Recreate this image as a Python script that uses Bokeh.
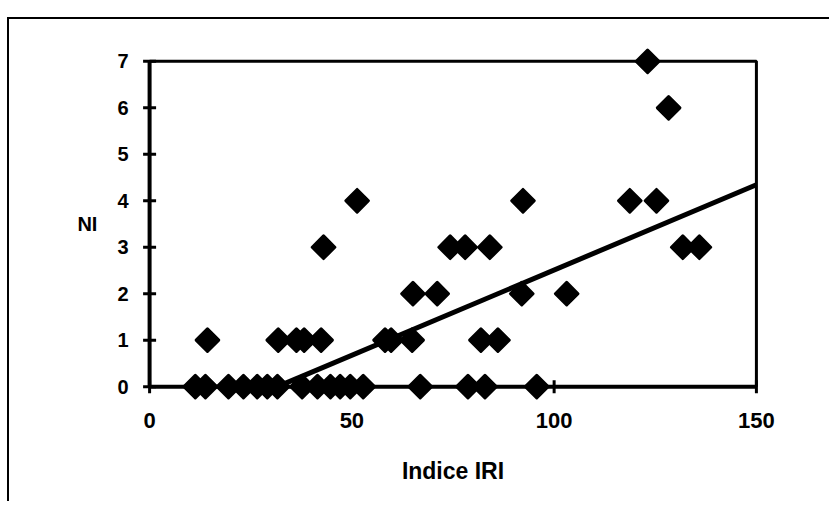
import numpy as np
from bokeh.plotting import figure
from bokeh.models import Range1d, FixedTicker
from bokeh.embed import file_html
from bokeh.resources import INLINE

# Data (IRI index vs NI)
iri = [11.3, 13.8, 19.5, 23.2, 26.6, 29.1, 31.6, 37.7, 41.5, 44.7, 47.1, 49.6, 52.8,
       66.9, 78.7, 82.9, 95.7,
       14.3, 31.8, 36.3, 38.2, 42.4, 58.2, 59.7, 64.9, 81.9, 86.1,
       65.1, 71.1, 92.0, 103.1,
       43.0, 74.3, 78.0, 84.1, 131.8, 135.9,
       51.3, 92.3, 118.7, 125.3,
       128.3,
       123.1]
ni = [0, 0, 0, 0, 0, 0, 0, 0, 0, 0, 0, 0, 0,
      0, 0, 0, 0,
      1, 1, 1, 1, 1, 1, 1, 1, 1, 1,
      2, 2, 2, 2,
      3, 3, 3, 3, 3, 3,
      4, 4, 4, 4,
      6,
      7]

x_ticks = [0, 50, 100, 150]
y_ticks = [0, 1, 2, 3, 4, 5, 6, 7]
trend_slope = 0.0367
trend_intercept = -1.16

X_MAX = 150
Y_MAX = 7
FONT = "Liberation Sans"

p = figure(width=822, height=484,
           x_range=Range1d(-2, 152), y_range=Range1d(-0.32, 7.32),
           output_backend="svg", toolbar_location=None,
           min_border_left=132, min_border_right=67,
           min_border_top=27, min_border_bottom=102)
p.styles = {"border-top": "2px solid black", "border-left": "2px solid black",
            "transform": "translate(7px, 17px)"}

p.grid.visible = False
p.outline_line_color = None
p.background_fill_color = "white"
p.border_fill_color = "white"

# plot box: top and right edges
p.line(x=[0, X_MAX, X_MAX], y=[Y_MAX, Y_MAX, 0], line_color="black", line_width=3)
# axis lines at x=0 and y=0
p.line(x=[0, X_MAX], y=[0, 0], line_color="black", line_width=4)
p.line(x=[0, 0], y=[0, Y_MAX], line_color="black", line_width=4)
# cross tick marks
p.scatter(x_ticks, [0] * len(x_ticks), marker="dash", angle=np.pi / 2, size=13,
          line_color="black", line_width=3)
p.scatter([0] * len(y_ticks), y_ticks, marker="dash", size=13,
          line_color="black", line_width=3)

# scatter markers (diamonds)
p.scatter(iri, ni, marker="square", angle=np.pi / 4, size=16,
          fill_color="black", line_color="black", line_width=3, line_join="round")

# trend line
x0 = -trend_intercept / trend_slope
tx = np.array([x0, X_MAX])
ty = trend_slope * tx + trend_intercept
p.line(tx, ty, line_color="black", line_width=5)

for ax in (p.xaxis, p.yaxis):
    ax.axis_line_color = None
    ax.major_tick_line_color = None
    ax.major_tick_in = 0
    ax.major_tick_out = 0
    ax.minor_tick_line_color = None
    ax.major_label_text_font = FONT
    ax.major_label_text_font_style = "bold"
    ax.major_label_text_color = "black"
    ax.axis_label_text_font = FONT
    ax.axis_label_text_font_style = "bold"
    ax.axis_label_text_color = "black"

p.xaxis.major_label_text_font_size = "22px"
p.yaxis.major_label_text_font_size = "20px"
p.xaxis.axis_label_text_font_size = "23px"
p.yaxis.axis_label_text_font_size = "20px"

p.xaxis.ticker = FixedTicker(ticks=x_ticks)
p.yaxis.ticker = FixedTicker(ticks=y_ticks)
p.xaxis.major_label_standoff = 11
p.yaxis.major_label_standoff = 13
p.xaxis.axis_label = "Indice IRI"
p.yaxis.axis_label = "NI"
p.yaxis.axis_label_orientation = "horizontal"
p.xaxis.axis_label_standoff = 27
p.yaxis.axis_label_standoff = 17

open("out.html", "w").write(file_html(p, INLINE))
